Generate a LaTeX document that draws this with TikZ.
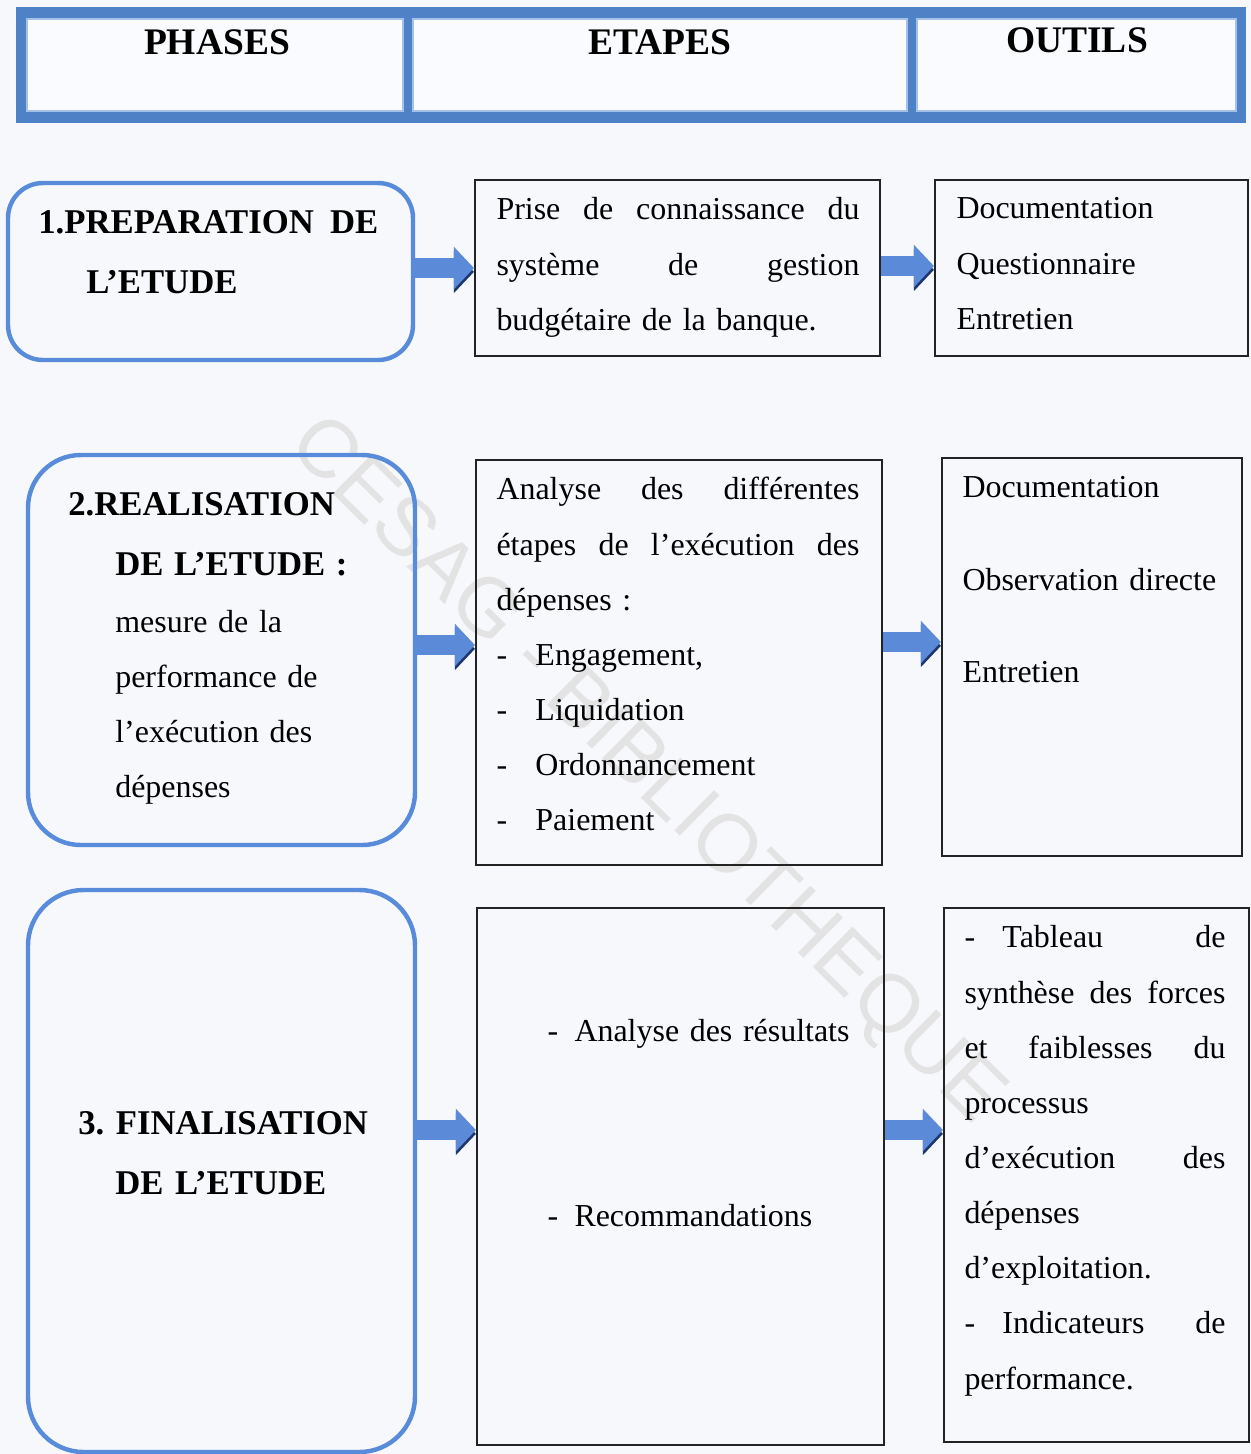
\documentclass[tikz,border=0pt]{standalone}
\usepackage{fontspec}
\setmainfont{Liberation Serif}
\newfontfamily\wmfont{Liberation Sans}
\usepackage{xcolor}
\usetikzlibrary{arrows.meta}

\newlength{\pxu}
\setlength{\pxu}{0.36pt}
\newcommand{\jline}[2]{\leavevmode\hbox to #1\pxu{#2}}
\newcommand{\itemdash}[1]{\makebox[#1\pxu][l]{-}}
\frenchspacing

\definecolor{pagebg}{RGB}{246,248,252}
\definecolor{hdrblue}{RGB}{79,129,199}
\definecolor{hdrline}{RGB}{165,193,232}
\definecolor{phaseblue}{RGB}{88,140,218}
\definecolor{flowblue}{RGB}{90,138,216}
\definecolor{flowdark}{RGB}{30,54,112}
\definecolor{boxline}{RGB}{35,35,35}

\begin{document}
\begin{tikzpicture}[
    x=0.36pt, y=-0.36pt,
    boxsize/.style 2 args={minimum width=#1*0.36pt, minimum height=#2*0.36pt},
    tw/.style={text width=#1*0.36pt},
    hdrframe/.style={rectangle, fill=hdrblue, draw=hdrblue, inner sep=0pt},
    hdrcell/.style={rectangle, fill=white!50!pagebg, draw=hdrline, line width=0.6pt, inner sep=0pt},
    head/.style={anchor=base, inner sep=0pt, font=\fontsize{13.5pt}{16pt}\selectfont\bfseries},
    phase/.style={rectangle, draw=phaseblue, line width=1.6pt, rounded corners=#1, inner sep=0pt},
    stepbox/.style={rectangle, draw=boxline, line width=0.75pt, inner sep=0pt},
    txt/.style={anchor=base west, inner sep=0pt, align=left, font=\fontsize{11.5pt}{19.85pt}\selectfont},
    phasetxt/.style={txt, font=\fontsize{12.5pt}{21.6pt}\selectfont\bfseries},
    flow/.style={-{Triangle[length=7.2pt,width=14.8pt]}, line width=7pt, draw=flowblue,
        preaction={draw=flowdark, transform canvas={yshift=-1.4pt}}},
    wmark/.style={rotate=-44.6, inner sep=0pt, text=gray!22, font=\wmfont\fontsize{29.5pt}{30pt}\selectfont}
]

\path[fill=pagebg, use as bounding box] (0,0) rectangle (1251,1454);

% Watermark
\node[wmark] (wm) at (645,772) {CESAG - BIBLIOTHEQUE};

% Header
\node[hdrframe, boxsize={1228}{114}] (hdr) at (631,65) {};
\node[hdrcell, boxsize={376}{92}] (hphases) at (215,65) {};
\node[hdrcell, boxsize={494}{92}] (hetapes) at (660,65) {};
\node[hdrcell, boxsize={319}{92}] (houtils) at (1076.5,65) {};
\node[head] (tphases) at ([shift={(2,36)}]hphases.north) {PHASES};
\node[head] (tetapes) at ([shift={(0,36)}]hetapes.north) {ETAPES};
\node[head] (toutils) at ([shift={(0.5,34)}]houtils.north) {OUTILS};

% Row 1: preparation
\node[phase=12.6pt, boxsize={405}{177}] (p1) at (210.5,271.5) {};
\node[stepbox, boxsize={405}{176}] (e1) at (677.5,268) {};
\node[stepbox, boxsize={313}{176}] (o1) at (1091.5,268) {};

\node[phasetxt, tw=340] (p1t) at ([shift={(32,53)}]p1.north west)
    {\jline{340}{1.PREPARATION\hfill DE}\\ \hspace*{48\pxu}L’ETUDE};
\node[txt, tw=363] (e1t) at ([shift={(22,41)}]e1.north west)
    {\jline{363}{Prise\hfill de\hfill connaissance\hfill du}\\
     \jline{363}{système\hfill de\hfill gestion}\\ budgétaire de la banque.};
\node[txt, tw=280] (o1t) at ([shift={(22,40)}]o1.north west)
    {Documentation\\ Questionnaire\\ Entretien};

% Row 2: realisation
\node[phase=19pt, boxsize={387}{390}] (p2) at (221.5,650) {};
\node[stepbox, boxsize={406}{405}] (e2) at (679,662.5) {};
\node[stepbox, boxsize={300}{398}] (o2) at (1092,657) {};

\node[txt, tw=330] (p2t) at ([shift={(42,63)}]p2.north west)
    {{\fontsize{12.5pt}{21.6pt}\selectfont\bfseries 2.REALISATION}\\[1.7pt]
     \hspace*{47\pxu}{\fontsize{12.5pt}{21.6pt}\selectfont\bfseries DE L’ETUDE :}\\[0.6pt]
     \hspace*{47\pxu}mesure de la\\
     \hspace*{47\pxu}performance de\\
     \hspace*{47\pxu}l’exécution des\\
     \hspace*{47\pxu}dépenses};
\node[txt, tw=363] (e2t) at ([shift={(21,41)}]e2.north west)
    {\jline{363}{Analyse\hfill des\hfill différentes}\\
     \jline{363}{étapes\hfill de\hfill l’exécution\hfill des}\\ dépenses :\\
     \itemdash{39}Engagement,\\ \itemdash{39}Liquidation\\
     \itemdash{39}Ordonnancement\\ \itemdash{39}Paiement};
\node[txt, tw=270] (o2t) at ([shift={(21,41)}]o2.north west)
    {Documentation\\[13.4pt] Observation directe\\[13.4pt] Entretien};

% Row 3: finalisation
\node[phase=20pt, boxsize={387}{562}] (p3) at (221.5,1171) {};
\node[stepbox, boxsize={407}{537}] (e3) at (680.5,1176.5) {};
\node[stepbox, boxsize={305}{534}] (o3) at (1096.5,1175) {};

\node[phasetxt, tw=330] (p3t) at ([shift={(52,247)}]p3.north west)
    {3. FINALISATION\\ \hspace*{37\pxu}DE L’ETUDE};
\node[txt, tw=320] (e3t) at ([shift={(71,135)}]e3.north west)
    {\itemdash{27}Analyse des résultats\\[46.7pt] \itemdash{27}Recommandations};
\node[txt, tw=261] (o3t) at ([shift={(21,41)}]o3.north west)
    {\jline{261}{\itemdash{38}Tableau\hfill de}\\
     \jline{261}{synthèse\hfill des\hfill forces}\\
     \jline{261}{et\hfill faiblesses\hfill du}\\
     processus\\ \jline{261}{d’exécution\hfill des}\\ dépenses\\ d’exploitation.\\
     \jline{261}{\itemdash{38}Indicateurs\hfill de}\\ performance.};

% Arrows
\draw[flow] ([shift={(0,-3.5)}]p1.east) -- (e1.west);
\draw[flow] ([shift={(0,-2)}]e1.east) -- ([shift={(0,-2)}]o1.west);
\draw[flow] ([shift={(0,-5)}]p2.east) -- ([shift={(0,-17.5)}]e2.west);
\draw[flow] ([shift={(0,-20.5)}]e2.east) -- ([shift={(0,-15)}]o2.west);
\draw[flow] ([shift={(0,-41)}]p3.east) -- ([shift={(0,-46.5)}]e3.west);
\draw[flow] ([shift={(0,-46.5)}]e3.east) -- ([shift={(0,-45)}]o3.west);

\end{tikzpicture}
\end{document}
